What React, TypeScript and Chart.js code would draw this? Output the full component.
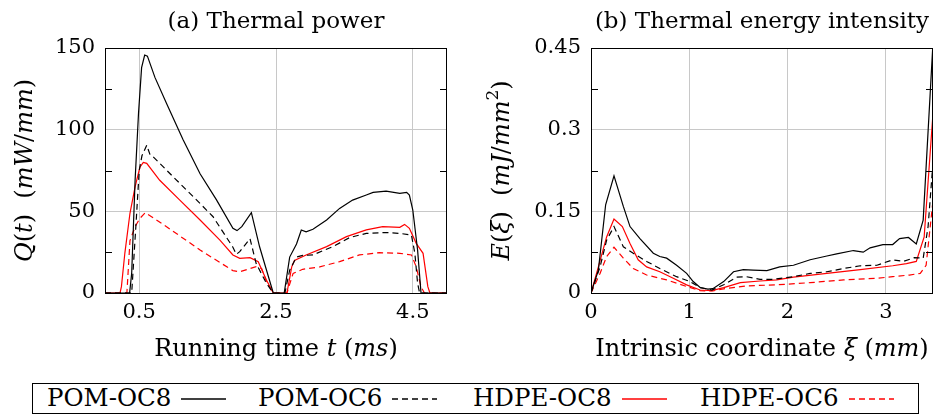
import React, { useEffect, useRef } from "react";
import { Chart, registerables } from "chart.js";

Chart.register(...registerables);

const FONT = "'DejaVu Serif', serif";
const GRID = "#c8c8c8";

// ---------- (a) Thermal power Q(t) ----------
const Q_POM_OC8_T = [0, 0.36, 0.39, 0.44, 0.49, 0.535, 0.58, 0.62, 0.73, 0.9, 1.14, 1.39, 1.63, 1.87, 1.93, 2.0, 2.14, 2.26, 2.46, 2.62, 2.7, 2.8, 2.87, 2.94, 3.04, 3.24, 3.43, 3.62, 3.82, 3.92, 4.11, 4.31, 4.41, 4.45, 4.5, 4.57, 4.62, 5.0];
const Q_POM_OC8 = [0, 0, 12, 69, 110, 138, 145.7, 145, 132, 116, 94, 73, 57, 39.6, 38.2, 40.6, 49.2, 28.3, 0, 0, 22, 30, 38.6, 37.5, 39, 44.7, 51.8, 56.9, 60, 61.6, 62.4, 61, 61.6, 60, 50.8, 26.3, 0, 0];

const Q_POM_OC6_T = [0, 0.39, 0.45, 0.5, 0.54, 0.61, 0.66, 0.705, 1.0, 1.29, 1.58, 1.87, 1.92, 1.97, 2.12, 2.21, 2.36, 2.46, 2.63, 2.7, 2.8, 2.89, 3.04, 3.33, 3.58, 3.82, 4.11, 4.31, 4.48, 4.53, 4.57, 4.6, 5.0];
const Q_POM_OC6 = [0, 0, 40, 75, 84, 90.5, 84.5, 83.4, 71, 59, 46.7, 28, 23.7, 25.3, 33.3, 18, 6, 0, 0, 14, 22, 23, 23.3, 28.4, 34, 36.5, 37, 36.5, 35.5, 24.3, 6, 0, 0];

const Q_HDPE_OC8_T = [0, 0.22, 0.24, 0.29, 0.365, 0.44, 0.51, 0.56, 0.61, 0.8, 1.09, 1.39, 1.68, 1.87, 1.97, 2.12, 2.24, 2.36, 2.46, 2.66, 2.73, 2.77, 2.94, 3.24, 3.53, 3.82, 4.06, 4.31, 4.38, 4.45, 4.55, 4.65, 4.72, 4.75, 5.0];
const Q_HDPE_OC8 = [0, 0, 3.9, 24.3, 48.8, 65, 77, 80, 79.4, 69, 57, 44.7, 32.4, 23.3, 21.2, 21.6, 19.2, 8, 0, 0, 16, 20, 23.3, 28.4, 34.5, 38.6, 40.6, 40.2, 42, 39.6, 30.4, 24.3, 3.9, 0, 0];

const Q_HDPE_OC6_T = [0, 0.32, 0.365, 0.44, 0.51, 0.59, 0.9, 1.39, 1.87, 1.97, 2.21, 2.29, 2.36, 2.46, 2.66, 2.75, 2.89, 3.14, 3.43, 3.72, 4.01, 4.31, 4.48, 4.55, 4.62, 4.67, 5.0];
const Q_HDPE_OC6 = [0, 0, 32, 40.6, 45.7, 49.2, 40.6, 26.3, 13.7, 13, 16.1, 15, 7, 0, 0, 12, 14.5, 16, 19.2, 23.3, 24.7, 24.3, 23.3, 16, 3.9, 0, 0];

const Q_X_TICKS = [0.5, 2.5, 4.5];
const Q_Y_TICKS = [0, 50, 100, 150];
const Q_Y_MINOR = [25, 75, 125];

// ---------- (b) Thermal energy intensity E(xi) ----------
const E_POM_OC8_X = [0, 0.075, 0.149, 0.234, 0.329, 0.397, 0.498, 0.634, 0.7, 0.77, 0.871, 0.973, 1.04, 1.11, 1.19, 1.24, 1.35, 1.45, 1.55, 1.65, 1.79, 1.92, 2.06, 2.23, 2.4, 2.5, 2.67, 2.77, 2.84, 2.97, 3.07, 3.14, 3.23, 3.31, 3.38, 3.48];
const E_POM_OC8 = [0, 0.042, 0.162, 0.215, 0.159, 0.122, 0.1, 0.073, 0.067, 0.064, 0.051, 0.036, 0.021, 0.01, 0.007, 0.008, 0.021, 0.039, 0.043, 0.042, 0.041, 0.048, 0.051, 0.061, 0.068, 0.072, 0.078, 0.075, 0.083, 0.089, 0.089, 0.1, 0.102, 0.09, 0.134, 0.46];

const E_POM_OC6_X = [0, 0.092, 0.159, 0.234, 0.329, 0.43, 0.566, 0.7, 0.871, 1.007, 1.11, 1.23, 1.35, 1.48, 1.58, 1.72, 1.85, 2.06, 2.23, 2.4, 2.57, 2.74, 2.91, 3.07, 3.18, 3.29, 3.38, 3.43, 3.48];
const E_POM_OC6 = [0, 0.048, 0.097, 0.122, 0.085, 0.073, 0.058, 0.045, 0.03, 0.021, 0.01, 0.0055, 0.015, 0.029, 0.03, 0.025, 0.025, 0.03, 0.036, 0.039, 0.045, 0.05, 0.051, 0.061, 0.058, 0.065, 0.064, 0.122, 0.24];

const E_HDPE_OC8_X = [0, 0.075, 0.159, 0.234, 0.319, 0.397, 0.48, 0.566, 0.7, 0.837, 0.973, 1.11, 1.23, 1.35, 1.52, 1.72, 1.89, 2.06, 2.4, 2.74, 3.07, 3.21, 3.31, 3.39, 3.48];
const E_HDPE_OC8 = [0, 0.048, 0.103, 0.136, 0.122, 0.091, 0.061, 0.048, 0.039, 0.027, 0.015, 0.0055, 0.0043, 0.01, 0.019, 0.022, 0.024, 0.029, 0.036, 0.043, 0.05, 0.054, 0.058, 0.103, 0.33];

const E_HDPE_OC6_X = [0, 0.092, 0.159, 0.234, 0.329, 0.43, 0.566, 0.77, 0.973, 1.11, 1.24, 1.38, 1.58, 1.89, 2.23, 2.57, 2.91, 3.07, 3.24, 3.35, 3.41, 3.48];
const E_HDPE_OC6 = [0, 0.036, 0.067, 0.084, 0.064, 0.045, 0.033, 0.024, 0.012, 0.0043, 0.0037, 0.0086, 0.013, 0.015, 0.019, 0.024, 0.027, 0.03, 0.033, 0.036, 0.051, 0.17];

const E_X_TICKS = [0, 1, 2, 3];
const E_Y_TICKS = [0, 0.15, 0.3, 0.45];
const E_Y_MINOR = [0.075, 0.225, 0.375];

const SERIES_LABELS = ["POM-OC8", "POM-OC6", "HDPE-OC8", "HDPE-OC6"];
const SERIES_COLORS = ["#000000", "#000000", "#ff0000", "#ff0000"];
const SERIES_DASHED = [false, true, false, true];

type Seg = { t: string; it?: boolean; sup?: boolean };

function drawRich(ctx: CanvasRenderingContext2D, segs: Seg[], size: number) {
  const fontOf = (s: Seg) => `${s.it ? "italic " : ""}${s.sup ? Math.round(size * 0.7) : size}px ${FONT}`;
  let total = 0;
  const widths = segs.map((s) => {
    ctx.font = fontOf(s);
    const w = ctx.measureText(s.t).width;
    total += w;
    return w;
  });
  let x = -total / 2;
  ctx.textBaseline = "middle";
  ctx.textAlign = "left";
  segs.forEach((s, i) => {
    ctx.font = fontOf(s);
    ctx.fillText(s.t, x, s.sup ? -size * 0.38 : 0);
    x += widths[i];
  });
}

const richTitlesPlugin = {
  id: "richTitles",
  afterDraw(chart: any, _args: any, opts: any) {
    const { ctx, chartArea: a } = chart;
    ctx.save();
    ctx.fillStyle = "#000";
    ctx.translate((a.left + a.right) / 2, a.bottom + opts.xOffset);
    drawRich(ctx, opts.xSegs, opts.size);
    ctx.restore();
    ctx.save();
    ctx.fillStyle = "#000";
    ctx.translate(opts.yX, (a.top + a.bottom) / 2);
    ctx.rotate(-Math.PI / 2);
    drawRich(ctx, opts.ySegs, opts.size);
    ctx.restore();
  },
};

const framePlugin = {
  id: "frameTicks",
  afterDatasetsDraw(chart: any, _args: any, opts: any) {
    const { ctx, chartArea: a, scales } = chart;
    ctx.save();
    ctx.strokeStyle = "#000";
    ctx.lineWidth = 1;
    ctx.beginPath();
    (opts.minor || []).forEach((v: number) => {
      const y = Math.round(scales.y.getPixelForValue(v)) + 0.5;
      ctx.moveTo(a.left, y);
      ctx.lineTo(a.left + 7, y);
      ctx.moveTo(a.right - 7, y);
      ctx.lineTo(a.right, y);
    });
    ctx.stroke();
    ctx.strokeRect(Math.round(a.left) + 0.5, Math.round(a.top) + 0.5, Math.round(a.right - a.left) - 1, Math.round(a.bottom - a.top));
    ctx.restore();
  },
};

function makeConfig(p: any): any {
  return {
    type: "line",
    data: {
      datasets: p.xs.map((xs: number[], i: number) => ({
        label: SERIES_LABELS[i],
        data: xs.map((x, j) => ({ x, y: p.ys[i][j] })),
        borderColor: SERIES_COLORS[i],
        borderWidth: 1.2,
        borderDash: SERIES_DASHED[i] ? [6, 4] : [],
        pointRadius: 0,
        tension: 0,
        fill: false,
      })),
    },
    options: {
      animation: false,
      responsive: false,
      maintainAspectRatio: false,
      events: [],
      layout: { padding: { left: 0, right: p.padRight, top: 0, bottom: 0 } },
      plugins: {
        legend: { display: false },
        tooltip: { enabled: false },
        title: {
          display: true,
          text: p.title,
          fullSize: false,
          color: "#000",
          font: { family: FONT, size: 23, weight: "normal", lineHeight: 1.2 },
          padding: { top: 8, bottom: 12.4 },
        },
        richTitles: { xSegs: p.xSegs, ySegs: p.ySegs, xOffset: 57, yX: p.yTitleX, size: 24 },
        frameTicks: { minor: p.minorY },
      },
      scales: {
        x: {
          type: "linear",
          min: p.xMin,
          max: p.xMax,
          grid: { color: GRID, lineWidth: 1, drawTicks: false },
          border: { display: false },
          ticks: {
            color: "#000",
            font: { family: FONT, size: 21 },
            padding: 7,
            maxRotation: 0,
            autoSkip: false,
            callback: (v: number) => String(v),
          },
          afterBuildTicks: (s: any) => {
            s.ticks = p.xTicks.map((v: number) => ({ value: v }));
          },
          afterFit: (s: any) => {
            s.height = 79;
          },
        },
        y: {
          type: "linear",
          min: p.yMin,
          max: p.yMax,
          grid: { color: GRID, lineWidth: 1, drawTicks: false },
          border: { display: false },
          ticks: {
            color: "#000",
            font: { family: FONT, size: 21 },
            padding: 10,
            autoSkip: false,
            callback: (v: number) => String(v),
          },
          afterBuildTicks: (s: any) => {
            s.ticks = p.yTicks.map((v: number) => ({ value: v }));
          },
          afterFit: (s: any) => {
            s.width = p.yWidth;
          },
        },
      },
    },
    plugins: [richTitlesPlugin, framePlugin],
  };
}

export default function App() {
  const leftRef = useRef<HTMLCanvasElement>(null);
  const rightRef = useRef<HTMLCanvasElement>(null);

  useEffect(() => {
    const c1 = new Chart(
      leftRef.current as HTMLCanvasElement,
      makeConfig({
        title: "(a) Thermal power",
        xs: [Q_POM_OC8_T, Q_POM_OC6_T, Q_HDPE_OC8_T, Q_HDPE_OC6_T],
        ys: [Q_POM_OC8, Q_POM_OC6, Q_HDPE_OC8, Q_HDPE_OC6],
        xMin: 0,
        xMax: 5,
        yMin: 0,
        yMax: 150,
        xTicks: Q_X_TICKS,
        yTicks: Q_Y_TICKS,
        minorY: Q_Y_MINOR,
        yWidth: 105,
        padRight: 19,
        yTitleX: 26,
        xSegs: [{ t: "Running time " }, { t: "t", it: true }, { t: " (" }, { t: "ms", it: true }, { t: ")" }],
        ySegs: [{ t: "Q", it: true }, { t: "(" }, { t: "t", it: true }, { t: ")  (" }, { t: "mW", it: true }, { t: "/" }, { t: "mm", it: true }, { t: ")" }],
      })
    );
    const c2 = new Chart(
      rightRef.current as HTMLCanvasElement,
      makeConfig({
        title: "(b) Thermal energy intensity",
        xs: [E_POM_OC8_X, E_POM_OC6_X, E_HDPE_OC8_X, E_HDPE_OC6_X],
        ys: [E_POM_OC8, E_POM_OC6, E_HDPE_OC8, E_HDPE_OC6],
        xMin: 0,
        xMax: 3.48,
        yMin: 0,
        yMax: 0.45,
        xTicks: E_X_TICKS,
        yTicks: E_Y_TICKS,
        minorY: E_Y_MINOR,
        yWidth: 125,
        padRight: 0,
        yTitleX: 37,
        xSegs: [{ t: "Intrinsic coordinate " }, { t: "ξ", it: true }, { t: " (" }, { t: "mm", it: true }, { t: ")" }],
        ySegs: [{ t: "E", it: true }, { t: "(" }, { t: "ξ", it: true }, { t: ")  (" }, { t: "mJ", it: true }, { t: "/" }, { t: "mm", it: true }, { t: "2", sup: true }, { t: ")" }],
      })
    );
    return () => {
      c1.destroy();
      c2.destroy();
    };
  }, []);

  const legendLeft = [47, 258, 473, 700];

  return (
    <div style={{ position: "fixed", left: 0, top: 0, width: 933, height: 416, background: "#fff", overflow: "hidden" }}>
      <canvas ref={leftRef} width={466} height={372} style={{ position: "absolute", left: 0, top: 0, width: 466, height: 372 }} />
      <canvas ref={rightRef} width={467} height={372} style={{ position: "absolute", left: 466, top: 0, width: 467, height: 372 }} />
      <div
        style={{
          position: "absolute",
          left: 32,
          top: 383,
          width: 887,
          height: 31,
          border: "1.5px solid #000",
          boxSizing: "border-box",
        }}
      />
      {SERIES_LABELS.map((lab, i) => (
        <div
          key={lab}
          style={{
            position: "absolute",
            left: legendLeft[i],
            top: 383,
            height: 31,
            display: "flex",
            alignItems: "center",
            fontFamily: FONT,
            fontSize: 24.5,
            lineHeight: 1,
            color: "#000",
            whiteSpace: "nowrap",
          }}
        >
          <span>{lab}</span>
          <svg width={45} height={10} style={{ marginLeft: 10 }}>
            <line
              x1={0}
              y1={5}
              x2={45}
              y2={5}
              stroke={SERIES_COLORS[i]}
              strokeWidth={1.3}
              strokeDasharray={SERIES_DASHED[i] ? "6 4" : undefined}
            />
          </svg>
        </div>
      ))}
    </div>
  );
}
